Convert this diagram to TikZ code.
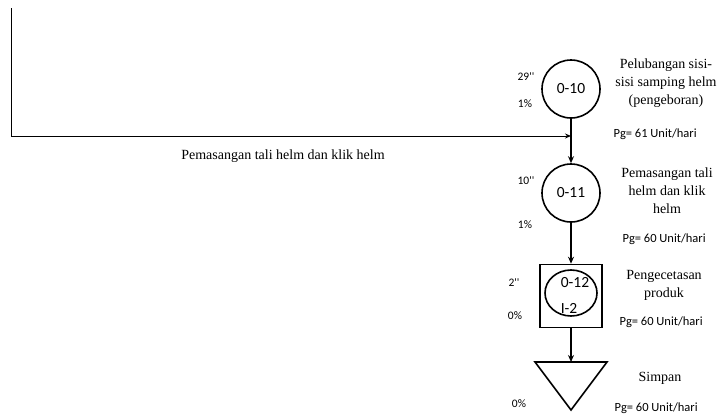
\documentclass[tikz,border=0pt]{standalone}
\usepackage{fontspec}
\setmainfont{Liberation Serif}
\newfontfamily\calfont{Carlito}
\usetikzlibrary{arrows.meta}

\begin{document}
\begin{tikzpicture}[x=1pt,y=-1pt,
  opr/.style={draw,circle,line width=1.6pt,minimum size=58pt,inner sep=0pt,
    font=\calfont\fontsize{15.5}{15.5}\selectfont},
  flow/.style={line width=1.6pt,-{Stealth[length=7pt,width=6pt]}},
  note/.style={font=\calfont\fontsize{11.5}{11.5}\selectfont},
  pg/.style={font=\calfont\fontsize{12.5}{12.5}\selectfont,anchor=west},
  desc/.style={align=center,font=\fontsize{14}{18}\selectfont}]
  \useasboundingbox (0,0) rectangle (722,418);

  % operations
  \node[opr] (o10) at (571,89) {0-10};
  \node[opr] (o11) at (571,193) {0-11};
  \node[draw,line width=1.6pt,minimum width=62pt,minimum height=63pt,inner sep=0pt] (b12) at (571,296) {};
  \draw[line width=1.6pt] (b12.center) ++(0,-3) ellipse (26 and 23);
  \node[font=\calfont\fontsize{15.5}{15.5}\selectfont] (t12) at (575,283) {0-12};
  \node[font=\calfont\fontsize{15.5}{15.5}\selectfont] (i2) at (569,308) {I-2};
  % storage
  \coordinate (s) at (571,362);
  \draw[line width=1.6pt] (535,362) -- (607,362) -- (571,410) -- cycle;

  % flow lines
  \draw[flow] (o10) -- (o11);
  \draw[flow] (o11) -- (b12);
  \draw[flow] (b12) -- (s);

  % incoming line
  \coordinate (top) at (11,8);
  \coordinate (corner) at (11,136);
  \coordinate (join) at (571,136);
  \draw[line width=1pt,-{Stealth[length=6pt,width=5pt]}] (top) -- (corner) -- (join);
  \node[font=\fontsize{14}{14}\selectfont] (lbl) at (283,156) {Pemasangan tali helm dan klik helm};

  % times and percentages
  \node[note] (n10a) at (526,77) {29''};
  \node[note] (n10b) at (525,104) {1\%};
  \node[note] (n11a) at (526,181) {10''};
  \node[note] (n11b) at (525,225) {1\%};
  \node[note] (n12a) at (514,283) {2''};
  \node[note] (n12b) at (515,316) {0\%};
  \node[note] (nsb) at (519,404) {0\%};

  % descriptions
  \node[desc] (d10) at (666,83) {Pelubangan sisi-\\sisi samping helm\\(pengeboran)};
  \node[desc] (d11) at (667,191) {Pemasangan tali\\helm dan klik\\helm};
  \node[desc] (d12) at (664,285) {Pengecetasan\\produk};
  \node[desc] (ds) at (660,378) {Simpan};

  % output rates
  \node[pg] (p10) at (610,134) {Pg= 61 Unit/hari};
  \node[pg] (p11) at (619,239) {Pg= 60 Unit/hari};
  \node[pg] (p12) at (616,322) {Pg= 60 Unit/hari};
  \node[pg] (ps) at (611,408) {Pg= 60 Unit/hari};
\end{tikzpicture}
\end{document}
